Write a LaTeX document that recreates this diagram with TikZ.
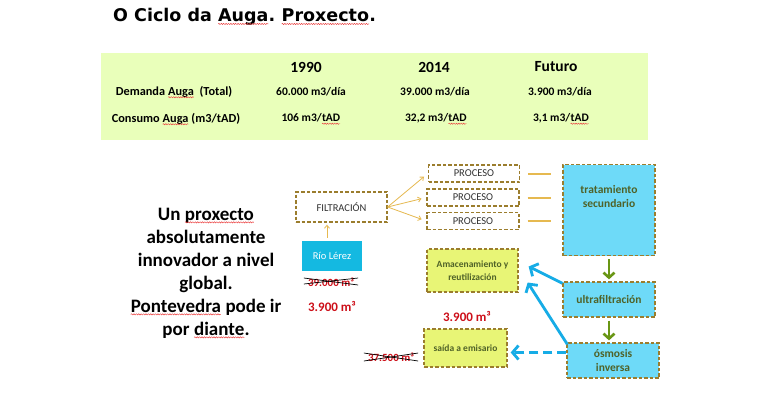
\documentclass[tikz,border=0pt]{standalone}
\usepackage{fontspec}
\setmainfont{Carlito}
\newfontfamily\titlefont{DejaVu Sans}
\usetikzlibrary{arrows.meta,decorations.pathmorphing}
\definecolor{squig}{RGB}{235,60,60}
\definecolor{tablegreen}{RGB}{233,255,186}
\definecolor{goldline}{RGB}{230,185,80}
\definecolor{boxborder}{RGB}{155,125,45}
\definecolor{riocyan}{RGB}{20,185,225}
\definecolor{lightcyan}{RGB}{110,218,248}
\definecolor{yellowgreen}{RGB}{232,245,118}
\definecolor{olivetext}{RGB}{79,98,40}
\definecolor{arrowgreen}{RGB}{105,150,20}
\definecolor{arrowblue}{RGB}{22,172,230}
\definecolor{redtext}{RGB}{205,15,25}
\definecolor{graytext}{RGB}{50,50,50}
\newcommand\redwave[1]{\tikz[baseline=(w.base),x=1pt,y=1pt]{\node[inner sep=0pt,outer sep=0pt,anchor=base,draw=none,fill=none,minimum width=0pt,minimum height=0pt](w) at (0,0){#1};\draw[squig,line width=0.45pt,solid,decorate,decoration={snake,amplitude=0.6pt,segment length=2.4pt}] ([yshift=-2.2pt]w.base west) -- ([yshift=-2.2pt]w.base east);}}
\begin{document}
\begin{tikzpicture}[x=1pt,y=-1pt,
  dbox/.style={draw=boxborder, line width=1.3pt, dash pattern=on 3.5pt off 2pt, inner sep=0pt, align=center},
  goldbox/.style={dbox, font=\fontsize{10.5}{12}\selectfont, text=graytext},
  hdr/.style={font=\bfseries\fontsize{15.5}{17}\selectfont},
  cell/.style={font=\bfseries\fontsize{11.5}{13}\selectfont},
  rowlbl/.style={font=\bfseries\fontsize{12.3}{14}\selectfont},
  boxlbl/.style={font=\bfseries\fontsize{11.5}{13}\selectfont, text=olivetext},
  goldarrow/.style={draw=goldline, line width=0.8pt, -{Straight Barb[length=3pt,width=5pt]}},
  goldcon/.style={draw=goldline, line width=1.5pt},
  greenarrow/.style={draw=arrowgreen, line width=2.6pt, -{Straight Barb[length=5pt,width=11pt]}},
  bluearrow/.style={draw=arrowblue, line width=2.8pt, -{Straight Barb[length=6pt,width=14pt]}},
  redbig/.style={font=\bfseries\fontsize{13}{15}\selectfont, text=redtext},
  redsmall/.style={font=\bfseries\fontsize{11}{12}\selectfont, text=redtext, inner sep=1pt}
]
\useasboundingbox (0,0) rectangle (770,400);
\fill[white] (0,0) rectangle (770,400);

% title
\node[anchor=west, font=\titlefont\bfseries\fontsize{17.5}{19}\selectfont\frenchspacing, inner sep=0pt] (title) at (113,17) {O Ciclo da \redwave{Auga}. \redwave{Proxecto}.};

% table
\node[fill=tablegreen, minimum width=547, minimum height=87, anchor=north west, inner sep=0pt] (tbl) at (101,53) {};
\node[hdr] (h1) at (306,67) {1990};
\node[hdr] (h2) at (434,67) {2014};
\node[hdr] (h3) at (556,67) {Futuro};
\node[rowlbl] (r1) at (174,92) {Demanda \redwave{Auga}\ \ (Total)};
\node[rowlbl] (r2) at (176,119) {Consumo \redwave{Auga} (m3/tAD)};
\node[cell] (c11) at (311,92) {60.000 m3/día};
\node[cell] (c12) at (435,92) {39.000 m3/día};
\node[cell] (c13) at (560,92) {3.900 m3/día};
\node[cell] (c21) at (311,119) {106 m3/\redwave{tAD}};
\node[cell] (c22) at (436,119) {32,2 m3/\redwave{tAD}};
\node[cell] (c23) at (561,119) {3,1 m3/\redwave{tAD}};

% left text
\node[align=center, font=\bfseries\fontsize{19}{23}\selectfont] (claim) at (206,273) {Un \redwave{proxecto}\\absolutamente\\innovador a nivel\\global.\\ \redwave{Pontevedra} pode ir\\por \redwave{diante}.};

% filtration part
\node[goldbox, minimum width=91, minimum height=30] (filt) at (341.5,207) {FILTRACIÓN};
\node[goldbox, minimum width=91, minimum height=17] (p1) at (474,173.5) {PROCESO};
\node[goldbox, minimum width=92, minimum height=17] (p2) at (473,197.5) {PROCESO};
\node[goldbox, minimum width=92, minimum height=17] (p3) at (473,221) {PROCESO};
\draw[goldarrow, shorten >=5pt] (filt.east) -- (p1.west);
\draw[goldarrow, shorten >=5pt] (filt.east) -- (p2.west);
\draw[goldarrow, shorten >=5pt] (filt.east) -- (p3.west);

\node[fill=riocyan, minimum width=60, minimum height=30, inner sep=0pt, text=white, font=\fontsize{10.5}{12}\selectfont] (rio) at (332,256) {Río Lérez};
\draw[goldarrow, shorten <=3pt, shorten >=2pt] ([xshift=-5pt]rio.north) -- ([xshift=-5pt]rio.north |- filt.south);

\node[redsmall] (x39) at (331,282) {39.000 m³};
\draw[black, line width=0.7pt] ([xshift=-3pt,yshift=-2pt]x39.west) -- ([xshift=3pt,yshift=4pt]x39.east);
\draw[black, line width=0.7pt] ([xshift=-3pt,yshift=4pt]x39.west) -- ([xshift=3pt,yshift=-3pt]x39.east);
\node[redbig] (v1) at (332,306) {3.900 m³};

% right chain
\node[dbox, fill=lightcyan, minimum width=92, minimum height=91, anchor=north] (trat) at (609,164) {};
\node[align=center, text=olivetext, font=\bfseries\fontsize{11.5}{14}\selectfont] (tratlbl) at (609,197) {tratamiento\\secundario};
\node[dbox, fill=lightcyan, minimum width=92, minimum height=35, boxlbl] (ultra) at (609,299.5) {ultrafiltración};
\node[dbox, fill=lightcyan, minimum width=92, minimum height=35, text=olivetext, align=center, font=\bfseries\fontsize{11.5}{14}\selectfont] (osm) at (613,360.5) {ósmosis\\inversa};
\draw[greenarrow, shorten <=3pt, shorten >=2pt] (trat.south) -- (ultra.north);
\draw[greenarrow, shorten <=3pt, shorten >=2pt] (ultra.south) -- (ultra.south |- osm.north);

\draw[goldcon] ([xshift=8pt,yshift=-0.5pt]p1.east) -- ([xshift=-11pt,yshift=-0.5pt]trat.west |- p1.east);
\draw[goldcon] ([xshift=8pt,yshift=-0.5pt]p2.east) -- ([xshift=-11pt,yshift=-0.5pt]trat.west |- p2.east);
\draw[goldcon] ([xshift=8pt]p3.east) -- ([xshift=-11pt]trat.west |- p3.east);

\node[dbox, fill=yellowgreen, minimum width=91, minimum height=43, text=olivetext, font=\bfseries\fontsize{9.5}{13}\selectfont] (amac) at (472.5,270.5) {Amacenamiento y\\reutilización};
\node[redbig] (v2) at (467,316) {3.900 m³};
\node[dbox, fill=yellowgreen, minimum width=83, minimum height=38, text=olivetext, font=\bfseries\fontsize{9.5}{12}\selectfont] (sai) at (465.5,348) {saída a emisario};
\node[redsmall] (x37) at (391,357) {37.500 m³};
\draw[black, line width=0.7pt] ([xshift=-3pt,yshift=4pt]x37.west) -- ([xshift=3pt,yshift=-4pt]x37.east);
\draw[black, line width=0.7pt] ([xshift=-3pt,yshift=-4pt]x37.west) -- ([xshift=3pt,yshift=4pt]x37.east);

\draw[bluearrow] ([yshift=-2pt]ultra.north west) -- ([xshift=10pt,yshift=4pt]amac.east);
\draw[bluearrow] ([xshift=1pt,yshift=-2pt]osm.north west) -- ([xshift=9pt,yshift=-12pt]amac.east);
\coordinate (dstart) at ([yshift=8pt]osm.west);
\draw[bluearrow, dash pattern=on 9pt off 5pt, shorten >=3pt] (dstart) -- (dstart -| sai.east);
\end{tikzpicture}
\end{document}
